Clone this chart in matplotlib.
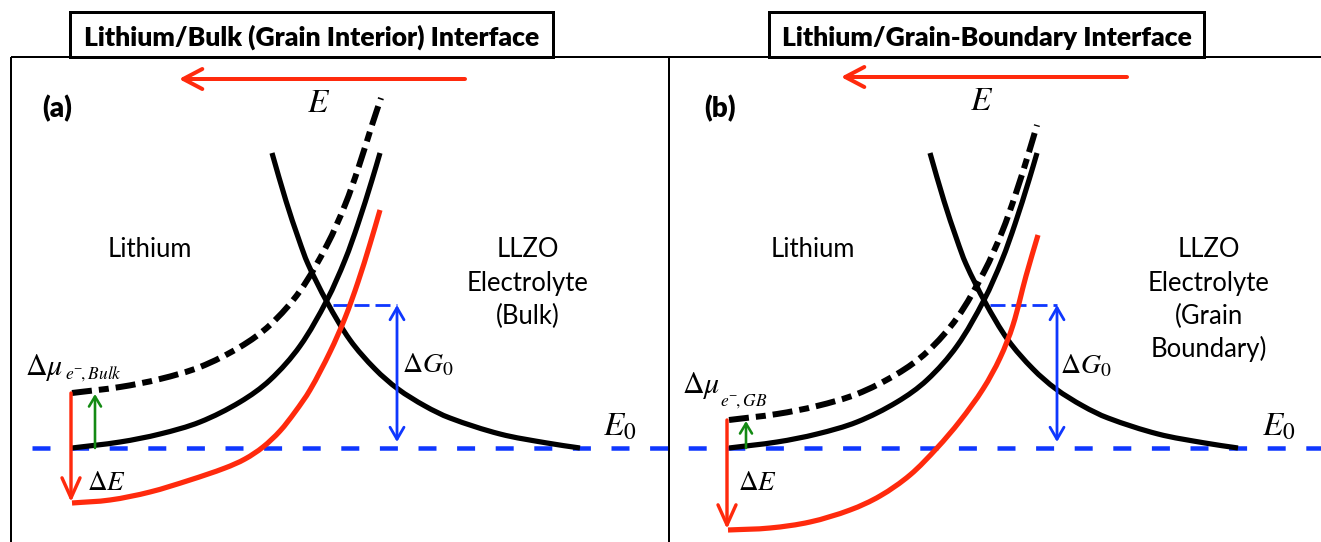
import numpy as np
import matplotlib
matplotlib.use("Agg")
import matplotlib.pyplot as plt
from matplotlib.path import Path
from matplotlib.patches import PathPatch, FancyArrowPatch, Rectangle, ArrowStyle

plt.rcParams["mathtext.fontset"] = "stix"
plt.rcParams["lines.scale_dashes"] = False

W, H = 1321, 542
PT = 0.72  # points per pixel at 100 dpi

# ---------------- labels ----------------
panel_tags = ["(a)", "(b)"]
panel_titles = ["Lithium/Bulk (Grain Interior) Interface",
                "Lithium/Grain-Boundary Interface"]
metal_label = "Lithium"
electrolyte_lines = [["LLZO", "Electrolyte", "(Bulk)"],
                     ["LLZO", "Electrolyte", "(Grain", "Boundary)"]]
mu_subscripts = [r"$e^{-}\!,Bulk$", r"$e^{-}\!,GB$"]

# ---------------- energy curves (x, y in pixels, y pointing down) ----------------
# Lithium-side solid curve (reference state)
li_a_x = [72, 120, 160, 200, 240, 270, 300, 327, 345, 358, 372, 380]
li_a_y = [448, 442, 434, 422, 402, 380, 346, 300, 260, 224, 180, 153]
li_b_x = [729, 777, 817, 857, 897, 927, 957, 984, 1002, 1015, 1029, 1037]
li_b_y = [448, 442, 434, 422, 402, 380, 346, 300, 260, 224, 180, 153]

# Lithium-side curve raised by the electron chemical potential (dash-dot)
mu_a_x = [72, 120, 160, 200, 240, 270, 300, 327, 345, 358, 372, 381]
mu_a_y = [393, 387, 379, 367, 347, 325, 291, 245, 205, 169, 125, 98]
mu_b_x = [729, 777, 817, 857, 897, 927, 957, 984, 1002, 1015, 1029, 1037]
mu_b_y = [420, 414, 406, 394, 374, 352, 318, 272, 232, 196, 152, 125]

# Electrolyte-side decaying curve
el_a_x = [272, 286, 299, 308, 327, 350, 375, 398, 425, 450, 500, 547, 580]
el_a_y = [153, 201, 240, 264, 302, 340, 369, 389, 406, 418, 434, 443, 448]
el_b_x = [930, 944, 957, 966, 985, 1008, 1033, 1056, 1083, 1108, 1158, 1205, 1238]
el_b_y = [153, 201, 240, 264, 302, 340, 369, 389, 406, 418, 434, 443, 448]

# Lithium-side curve lowered by the field (red)
red_a_x = [72, 110, 150, 190, 225, 245, 263, 280, 295, 310, 330, 345, 358, 370, 380]
red_a_y = [503, 500, 492, 480, 468, 459, 447, 431, 412, 390, 352, 318, 282, 244, 210]
red_b_x = [728, 770, 810, 850, 880, 910, 937, 960, 983, 1000, 1013, 1026, 1038]
red_b_y = [530, 528, 522, 510, 496, 475, 448, 421, 389, 358, 325, 276, 235]

# reference level and barrier top
e0_level = 448
dg_top = [305, 305]

RED = "#ff2a0d"
BLUE = "#0f37ff"
GREEN = "#138a13"


def smooth_path(xs, ys):
    pts = np.column_stack([xs, ys]).astype(float)
    n = len(pts)
    verts = [pts[0]]
    codes = [Path.MOVETO]
    for i in range(n - 1):
        p0 = pts[i - 1] if i > 0 else pts[i]
        p1, p2 = pts[i], pts[i + 1]
        p3 = pts[i + 2] if i + 2 < n else pts[i + 1]
        # Catmull-Rom tangents scaled to the local segment length
        d = np.linalg.norm(p2 - p1)
        t1 = (p2 - p0) / max(np.linalg.norm(p2 - p0), 1e-9) * d / 3.0
        t2 = (p3 - p1) / max(np.linalg.norm(p3 - p1), 1e-9) * d / 3.0
        verts += [p1 + t1, p2 - t2, p2]
        codes += [Path.CURVE4] * 3
    return Path(verts, codes)


def curve(ax, xs, ys, color, lw_px, dashes=None, z=3):
    ls = "-" if dashes is None else (0, tuple(d * PT for d in dashes))
    ax.add_patch(PathPatch(smooth_path(xs, ys), fill=False, edgecolor=color,
                           lw=lw_px * PT, linestyle=ls, capstyle="butt",
                           joinstyle="round", zorder=z))


def arrow(ax, p0, p1, color, lw_px, hl_px, hw_px, style="->", z=4):
    st = ArrowStyle(style, head_length=hl_px * PT, head_width=hw_px * PT)
    ax.add_patch(FancyArrowPatch(p0, p1, arrowstyle=st, mutation_scale=1,
                                 color=color, lw=lw_px * PT, shrinkA=0,
                                 shrinkB=0, zorder=z))


fig = plt.figure(figsize=(W / 100, H / 100), dpi=100)
ax = fig.add_axes([0, 0, 1, 1])
ax.set_xlim(0, W)
ax.set_ylim(H, 0)
ax.axis("off")
renderer = fig.canvas.get_renderer()


def fit_width(t, width_px):
    bb = t.get_window_extent(renderer)
    t.set_fontsize(t.get_fontsize() * width_px / bb.width)
    return t.get_fontsize()


# frame
frame_kw = dict(color="black", lw=2 * PT, solid_capstyle="butt", zorder=1)
ax.plot([11, W], [57, 57], **frame_kw)
ax.plot([11, 11], [57, H], **frame_kw)
ax.plot([669, 669], [57, H], **frame_kw)

# titles in boxes
title_boxes = [(70, 553), (769, 1204)]
title_size = None
for (x0, x1), title in zip(title_boxes, panel_titles):
    ax.add_patch(Rectangle((x0, 12), x1 - x0, 45, facecolor="white",
                           edgecolor="black", lw=3 * PT, zorder=2))
    t = ax.text((x0 + x1) / 2, 45.5, title, family="Lato", weight="heavy",
                ha="center", va="baseline", fontsize=16, zorder=3)
    if title_size is None:
        title_size = fit_width(t, 455)
    else:
        t.set_fontsize(title_size)

# reference level E0 (spans both panels)
ax.plot([32, W], [e0_level, e0_level], color=BLUE, lw=4.5 * PT,
        dashes=(18 * PT, 20.6 * PT), solid_capstyle="butt",
        dash_capstyle="butt", zorder=2)

panels = [
    dict(li=(li_a_x, li_a_y), mu=(mu_a_x, mu_a_y), el=(el_a_x, el_a_y),
         red=(red_a_x, red_a_y), top_arrow=(465, 179, 79), tag=(57, 117),
         E=(307, 112), lith=150, elec=528, mu_txt=(25, 375, 65, 379),
         dE=(87, 490), dg_x=(333, 397), dg_txt=(402, 372), e0_txt=(603, 435),
         green_x=95),
    dict(li=(li_b_x, li_b_y), mu=(mu_b_x, mu_b_y), el=(el_b_x, el_b_y),
         red=(red_b_x, red_b_y), top_arrow=(1127, 841, 77), tag=(720, 117),
         E=(970, 110), lith=813, elec=1209, mu_txt=(682, 393, 720, 406),
         dE=(738, 490), dg_x=(990, 1057), dg_txt=(1060, 373),
         e0_txt=(1262, 435), green_x=746),
]

label_size = None
for i, p in enumerate(panels):
    # curves
    curve(ax, *p["el"], "black", 5.2)
    curve(ax, *p["li"], "black", 5.2)
    curve(ax, *p["mu"], "black", 6.0, dashes=(20, 7, 10, 7))
    curve(ax, *p["red"], RED, 5.2)

    # field direction arrow and E
    x_tail, x_tip, y_arr = p["top_arrow"]
    arrow(ax, (x_tail, y_arr), (x_tip, y_arr), RED, 4, 19, 10)
    ax.text(p["E"][0], p["E"][1], r"$E$", fontsize=24, ha="left",
            va="baseline")

    # panel tag
    ax.text(p["tag"][0], p["tag"][1], panel_tags[i], family="Lato",
            weight="heavy", fontsize=20, ha="center", va="baseline")

    # region labels
    t = ax.text(p["lith"], 257, metal_label, family="Lato", fontsize=16,
                ha="center", va="baseline")
    lines = []
    for k, s in enumerate(electrolyte_lines[i]):
        lines.append(ax.text(p["elec"], 257 + 33.5 * k, s, family="Lato",
                             fontsize=16, ha="center", va="baseline"))
    if label_size is None:
        label_size = fit_width(lines[1], 122)
    t.set_fontsize(label_size)
    for ln in lines:
        ln.set_fontsize(label_size)

    # chemical potential shift (green) and field shift (red)
    li_y0 = p["li"][1][0]
    mu_y0 = p["mu"][1][0]
    red_x0, red_y0 = p["red"][0][0], p["red"][1][0]
    gx = p["green_x"]
    arrow(ax, (gx, li_y0), (gx, mu_y0 + 1), GREEN, 2.6, 10, 6)
    arrow(ax, (red_x0 - 1, mu_y0), (red_x0 - 1, red_y0 - 1), RED, 3.4, 20, 9)

    mx, my, sx, sy = p["mu_txt"]
    ax.text(mx, my, r"$\Delta\mu$", fontsize=21.5, ha="left", va="baseline")
    ax.text(sx, sy, mu_subscripts[i], fontsize=12.5, ha="left",
            va="baseline")
    ax.text(p["dE"][0], p["dE"][1], r"$\Delta E$", fontsize=19.5, ha="left",
            va="baseline")

    # activation barrier
    x_left, x_arr = p["dg_x"]
    ax.plot([x_left, x_arr], [dg_top[i], dg_top[i]], color=BLUE,
            lw=2.8 * PT, dashes=(15 * PT, 6 * PT), dash_capstyle="butt",
            zorder=2)
    arrow(ax, (x_arr, dg_top[i]), (x_arr, e0_level - 6), BLUE, 2.8, 12, 7,
          style="<->")
    gx_t, gy_t = p["dg_txt"]
    ax.text(gx_t, gy_t, r"$\Delta G_{0}$", fontsize=20, ha="left",
            va="baseline")

    ex, ey = p["e0_txt"]
    ax.text(ex, ey, r"$E_{0}$", fontsize=24, ha="left", va="baseline")

fig.savefig("out.png", dpi=100)
